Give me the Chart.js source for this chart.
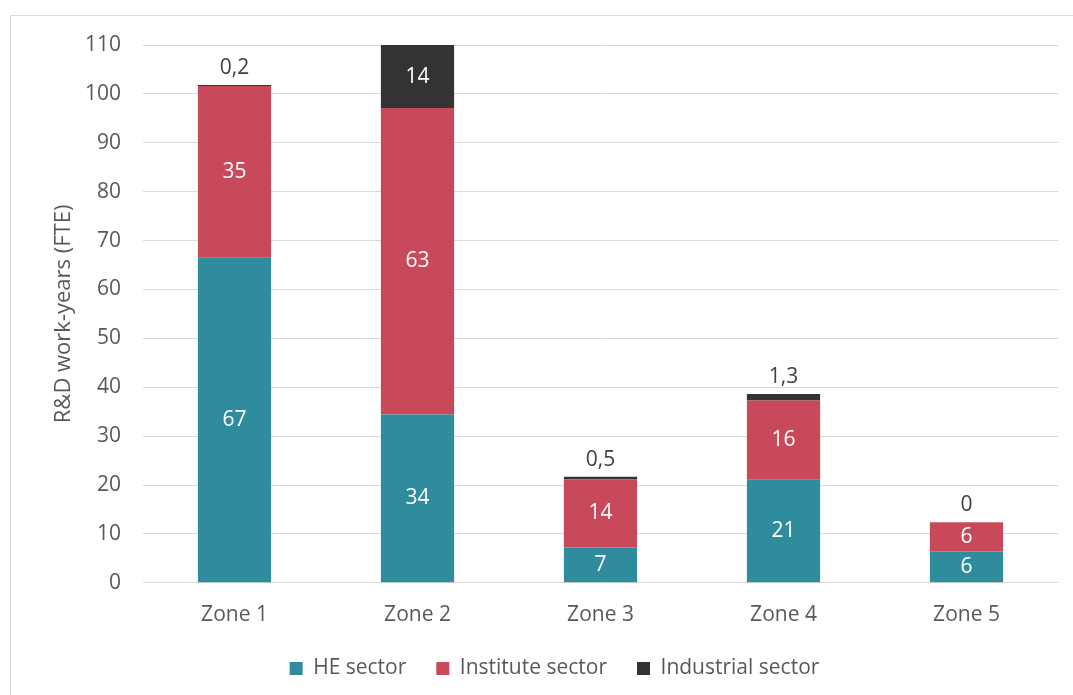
<!DOCTYPE html>
<html>
<head>
<meta charset="utf-8">
<script src="https://cdn.jsdelivr.net/npm/chart.js@4"></script>
<style>
  html, body { margin: 0; padding: 0; background: #fff; }
  #wrap { position: absolute; left: 0; top: 0; width: 1073px; height: 695px; }
  #frame { position: absolute; left: 10px; top: 15px; width: 1070px; height: 690px; border: 1px solid #d9d9d9; box-sizing: border-box; }
  canvas { position: absolute; left: 0; top: 0; }
</style>
</head>
<body>
<div id="wrap">
  <div id="frame"></div>
  <canvas id="c" width="1073" height="695"></canvas>
</div>
<script>
const categories = ['Zone 1', 'Zone 2', 'Zone 3', 'Zone 4', 'Zone 5'];
const heSector = [66.6, 34.4, 7.2, 21.2, 6.4];
const instituteSector = [35.0, 62.7, 14.0, 16.1, 6.0];
const industrialSector = [0.2, 14, 0.5, 1.3, 0];
const yTicks = [0, 10, 20, 30, 40, 50, 60, 70, 80, 90, 100, 110];

const FONT = "'Open Sans', sans-serif";

function fmt(v) {
  if (Number.isInteger(v)) return String(v);
  return v.toFixed(1).replace('.', ',');
}

const labelPlugin = {
  id: 'barLabels',
  afterDatasetsDraw(chart) {
    const ctx = chart.ctx;
    const area = chart.chartArea;
    ctx.save();
    ctx.textAlign = 'center';
    ctx.textBaseline = 'middle';
    ctx.font = '21px ' + FONT;
    chart.data.datasets.forEach((ds, di) => {
      const meta = chart.getDatasetMeta(di);
      meta.data.forEach((bar, i) => {
        const v = ds.data[i];
        const top = Math.max(bar.y, area.top);
        const bottom = bar.base;
        const h = bottom - top;
        if (di < 2) {
          ctx.fillStyle = '#ffffff';
          ctx.fillText(String(Math.round(v)), bar.x, (top + bottom) / 2);
        } else {
          if (h > 25) {
            ctx.fillStyle = '#ffffff';
            ctx.fillText(fmt(v), bar.x, (top + bottom) / 2);
          } else {
            ctx.fillStyle = '#404040';
            ctx.fillText(fmt(v), bar.x, top - 17);
          }
        }
      });
    });
    ctx.restore();
  }
};

new Chart(document.getElementById('c'), {
  type: 'bar',
  data: {
    labels: categories,
    datasets: [
      { label: 'HE sector', data: heSector, backgroundColor: '#2e8c9d' },
      { label: 'Institute sector', data: instituteSector, backgroundColor: '#c84a5a' },
      { label: 'Industrial sector', data: industrialSector, backgroundColor: '#333333' }
    ]
  },
  options: {
    responsive: false,
    animation: false,
    devicePixelRatio: 1,
    layout: { padding: { left: 51, right: 15, top: 45, bottom: 6 } },
    datasets: { bar: { barPercentage: 0.4, categoryPercentage: 1.0 } },
    plugins: {
      legend: {
        position: 'bottom',
        labels: {
          font: { family: FONT, size: 21 },
          color: '#595959',
          boxWidth: 13,
          boxHeight: 13,
          padding: 30
        }
      },
      tooltip: { enabled: false }
    },
    scales: {
      x: {
        stacked: true,
        grid: { display: false },
        border: { display: false },
        afterFit(scale) { scale.height -= 12; },
        ticks: { font: { family: FONT, size: 21 }, color: '#595959', padding: 12 }
      },
      y: {
        stacked: true,
        min: 0,
        max: 110,
        afterBuildTicks(scale) { scale.ticks = yTicks.map(v => ({ value: v })); },
        afterFit(scale) { scale.width = 92; },
        grid: { color: '#d9d9d9', lineWidth: 1, drawTicks: false },
        border: { display: false },
        ticks: { font: { family: FONT, size: 21 }, color: '#595959', padding: 22 },
        title: { display: true, text: 'R&D work-years (FTE)', font: { family: FONT, size: 22 }, color: '#595959', padding: 0 }
      }
    }
  },
  plugins: [labelPlugin]
});
</script>
</body>
</html>
